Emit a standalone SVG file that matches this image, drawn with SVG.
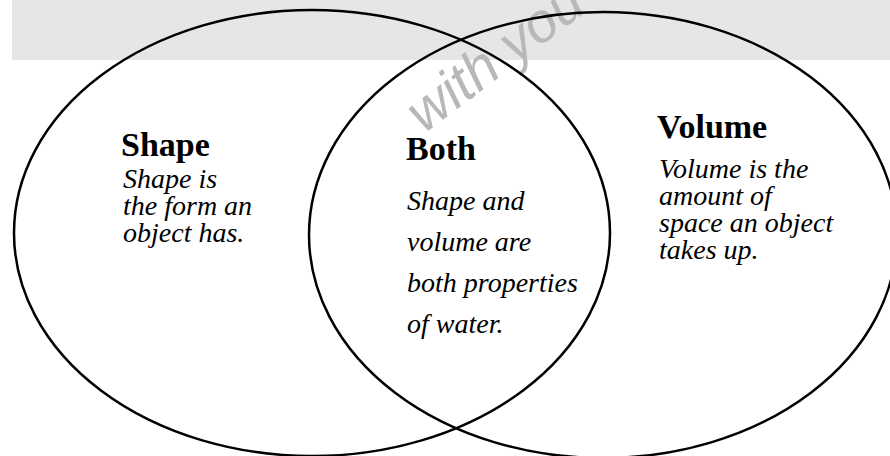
<svg xmlns="http://www.w3.org/2000/svg" width="890" height="456" viewBox="0 0 890 456">
  <style>
    .ring { fill: none; stroke: #000; stroke-width: 2.5; }
    .head { font-family: "Liberation Serif", serif; font-weight: bold; font-size: 34px; fill: #000; }
    .body { font-family: "Liberation Serif", serif; font-style: italic; font-size: 28px; fill: #000; }
    .mark { font-family: "Liberation Sans", sans-serif; font-style: italic; font-size: 56px; fill: #b8b8b8; }
  </style>
  <rect width="890" height="456" fill="#fff"/>
  <!-- header band -->
  <rect x="12" y="0" width="878" height="60" fill="#e5e6e8"/>
  <!-- faint stamp across the top -->
  <text class="mark" transform="translate(424 134) rotate(-37)">with you</text>
  <g id="connectors"></g>
  <g id="shape">
    <ellipse class="ring" cx="312" cy="233" rx="298" ry="223"/>
    <text class="head" x="121" y="156">Shape</text>
    <text class="body" x="123" y="188">Shape is</text>
    <text class="body" x="123" y="215">the form an</text>
    <text class="body" x="123" y="242">object has.</text>
  </g>
  <g id="volume">
    <ellipse class="ring" cx="603" cy="235" rx="294" ry="223"/>
    <text class="head" x="657" y="138">Volume</text>
    <text class="body" x="659" y="178">Volume is the</text>
    <text class="body" x="659" y="205">amount of</text>
    <text class="body" x="659" y="232">space an object</text>
    <text class="body" x="659" y="259">takes up.</text>
  </g>
  <g id="both">
    <text class="head" x="406" y="160">Both</text>
    <text class="body" x="407" y="210">Shape and</text>
    <text class="body" x="407" y="251">volume are</text>
    <text class="body" x="407" y="292">both properties</text>
    <text class="body" x="407" y="333">of water.</text>
  </g>
</svg>
